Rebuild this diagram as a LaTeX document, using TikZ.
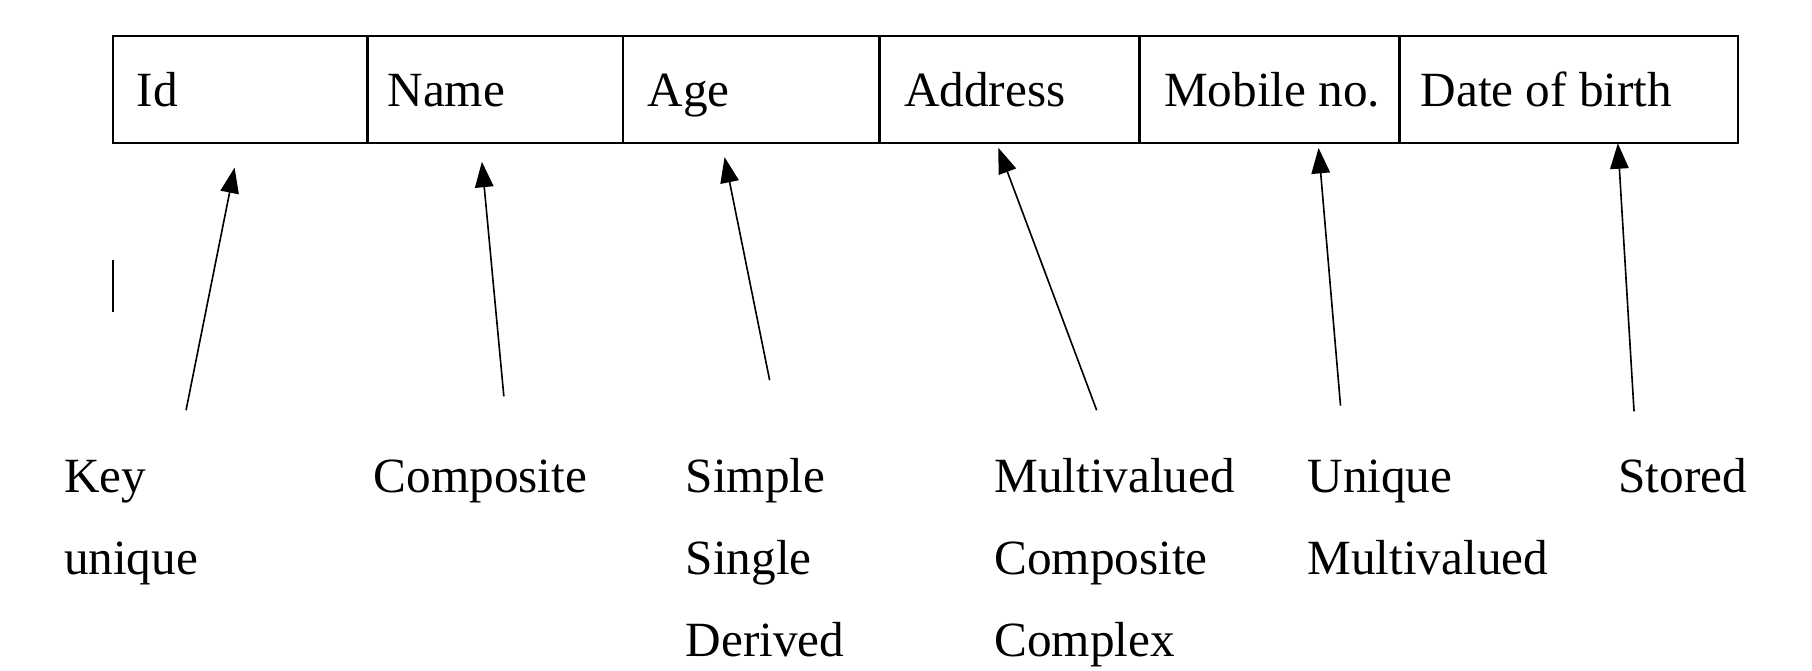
\documentclass[tikz,border=0pt]{standalone}
\usepackage{fontspec}
\setmainfont{Liberation Serif}
\usetikzlibrary{arrows.meta}
\begin{document}
\begin{tikzpicture}[x=0.5pt,y=-0.5pt,
  cell/.style={draw, line width=1pt, minimum height=46.5pt, inner sep=0pt, anchor=north west},
  txt/.style={inner sep=0pt, anchor=base west, font=\fontsize{21.3}{25}\selectfont},
  arr/.style={-{Triangle[length=11pt,width=8pt]}, line width=0.7pt}]
\useasboundingbox (0,0) rectangle (1568,580);
% table cells
\node[cell, minimum width=110pt] (cid) at (97,30) {};
\node[cell, minimum width=110.5pt] (cname) at (317,30) {};
\node[cell, minimum width=111pt] (cage) at (538,30) {};
\node[cell, minimum width=112.5pt] (caddr) at (760,30) {};
\node[cell, minimum width=112.5pt] (cmob) at (985,30) {};
\node[cell, minimum width=146.5pt] (cdob) at (1210,30) {};
% cell texts
\node[txt] (tid) at (118,92) {Id};
\node[txt] (tname) at (335,92) {Name};
\node[txt] (tage) at (560,92) {Age};
\node[txt] (taddr) at (782,92) {Address};
\node[txt] (tmob) at (1007,92) {Mobile no.};
\node[txt] (tdob) at (1229,92) {Date of birth};
% stray cursor line
\coordinate (k1) at (98,225);
\coordinate (k2) at (98,270);
\draw[line width=0.8pt] (k1) -- (k2);
% arrows
\coordinate (h1) at (203,145); \coordinate (s1) at (161,355);
\coordinate (h2) at (417,140); \coordinate (s2) at (436,343);
\coordinate (h3) at (627,136); \coordinate (s3) at (666,329);
\coordinate (h4) at (864,128); \coordinate (s4) at (949,355);
\coordinate (h5) at (1141,128); \coordinate (s5) at (1160,351);
\coordinate (h6) at (1400,124); \coordinate (s6) at (1414,356);
\draw[arr] (s1) -- (h1);
\draw[arr] (s2) -- (h2);
\draw[arr] (s3) -- (h3);
\draw[arr] (s4) -- (h4);
\draw[arr] (s5) -- (h5);
\draw[arr] (s6) -- (h6);
% labels
\node[txt] (l1a) at (55,426) {Key};
\node[txt] (l1b) at (55,497) {unique};
\node[txt] (l2a) at (323,426) {Composite};
\node[txt] (l3a) at (593,426) {Simple};
\node[txt] (l3b) at (593,497) {Single};
\node[txt] (l3c) at (593,568) {Derived};
\node[txt] (l4a) at (860,426) {Multivalued};
\node[txt] (l4b) at (860,497) {Composite};
\node[txt] (l4c) at (860,568) {Complex};
\node[txt] (l5a) at (1131,426) {Unique};
\node[txt] (l5b) at (1131,497) {Multivalued};
\node[txt] (l6a) at (1400,426) {Stored};
\end{tikzpicture}
\end{document}
